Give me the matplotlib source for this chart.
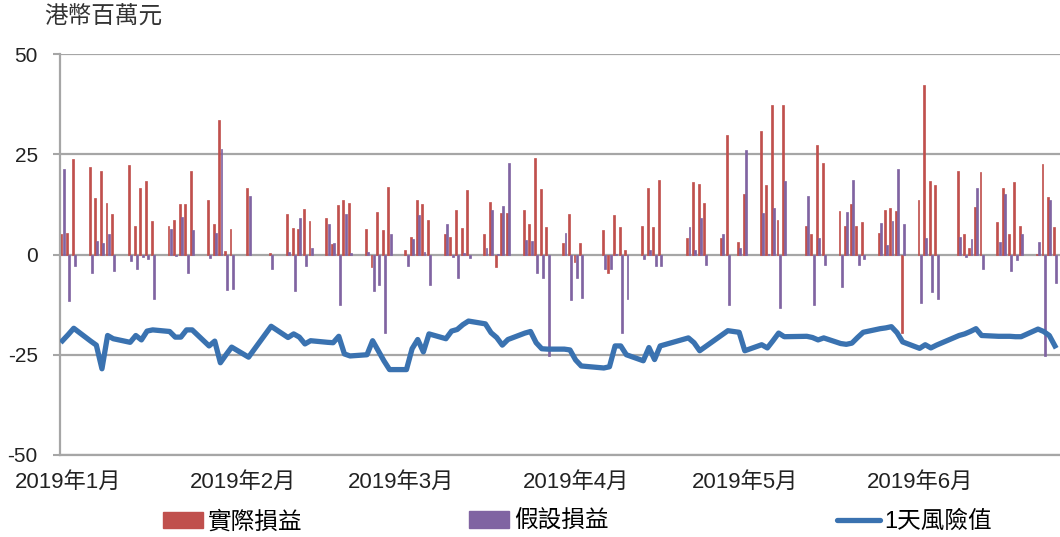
import numpy as np
import pandas as pd
import matplotlib
matplotlib.use("Agg")
import matplotlib.pyplot as plt
import matplotlib.dates as mdates
from matplotlib.patches import Patch
from matplotlib.lines import Line2D

plt.rcParams['font.family'] = ['Liberation Sans', 'Noto Sans CJK TC', 'DejaVu Sans']

# trading days, Jan - Jun 2019
days = [
    "01-02", "01-03", "01-04", "01-07", "01-08", "01-09", "01-10", "01-11",
    "01-14", "01-15", "01-16", "01-17", "01-18", "01-21", "01-22", "01-23",
    "01-24", "01-25", "01-28", "01-29", "01-30", "01-31",
    "02-01", "02-04", "02-08", "02-11", "02-12", "02-13", "02-14", "02-15",
    "02-18", "02-19", "02-20", "02-21", "02-22", "02-25", "02-26", "02-27", "02-28",
    "03-01", "03-04", "03-05", "03-06", "03-07", "03-08", "03-11", "03-12",
    "03-13", "03-14", "03-15", "03-18", "03-19", "03-20", "03-21", "03-22",
    "03-25", "03-26", "03-27", "03-28", "03-29",
    "04-01", "04-02", "04-03", "04-04", "04-08", "04-09", "04-10", "04-11",
    "04-12", "04-15", "04-16", "04-17", "04-18", "04-23", "04-24", "04-25",
    "04-26", "04-29", "04-30",
    "05-02", "05-03", "05-06", "05-07", "05-08", "05-09", "05-10", "05-14",
    "05-15", "05-16", "05-17", "05-20", "05-21", "05-22", "05-23", "05-24",
    "05-27", "05-28", "05-29", "05-30", "05-31",
    "06-03", "06-04", "06-05", "06-06", "06-10", "06-11", "06-12", "06-13",
    "06-14", "06-17", "06-18", "06-19", "06-20", "06-21", "06-24", "06-25",
    "06-26", "06-27",
]

# 實際損益 (HK$ mn)
actual = [
    5.2, 5.4, 23.7, 21.9, 14.2, 20.9, 12.9, 10.0,
    22.2, 7.1, 16.7, 18.3, 8.3, 7.1, 8.7, 12.5,
    12.5, 20.8, 13.7, 7.7, 33.6, 0.8,
    6.4, 16.7, 0.3, 10.0, 6.7, 6.4, 11.4, 8.3,
    9.2, 2.7, 12.3, 13.7, 12.9, 6.4, -3.1, 10.7, 6.0,
    16.8, 1.2, 4.4, 13.5, 12.5, 8.6, 5.2, 4.4,
    11.0, 6.7, 16.2, 5.2, 13.0, -3.1, 10.4, 10.4,
    11.2, 7.5, 24.0, 16.4, 6.8,
    2.9, 10.2, -1.9, 2.9, 6.0, -4.6, 9.8, 6.8,
    1.2, 7.2, 16.6, 6.8, 18.5, 4.0, 18.1, 17.7,
    12.9, 4.2, 29.7,
    3.1, 15.2, 30.7, 17.4, 37.2, 8.7, 37.2, 7.1,
    5.2, 27.3, 22.7, 10.8, 7.2, 12.7, 7.1, 8.2,
    5.4, 11.0, 11.5, 10.8, -19.6,
    13.7, 42.3, 18.3, 17.4, 20.8, 5.2, 1.7, 11.8,
    20.6, 8.1, 16.5, 5.2, 18.1, 7.1, 0.2, 22.5,
    14.4, 6.8,
]

# 假設損益 (HK$ mn)
hypothetical = [
    21.2, -11.7, -2.9, -4.6, 3.3, 2.9, 5.0, -4.0,
    -1.7, -3.7, -0.6, -1.2, -11.2, 6.4, -0.4, 9.4,
    -4.7, 6.0, -0.8, 5.4, 26.4, -8.9,
    -8.6, 14.6, -3.7, 0.5, -9.2, 9.0, -2.9, 1.5,
    7.5, 2.9, -12.7, 10.2, 0.3, 0.7, -9.2, -7.5, -19.6,
    5.0, -2.9, 3.9, 9.8, 0.7, -7.7, 7.7, -0.7,
    -5.8, 0.3, -0.8, 1.7, 11.0, 0.2, 12.2, 22.9,
    3.6, 3.3, -4.7, -5.8, -25.2,
    5.4, -11.4, -5.8, -10.8, -3.6, -3.6, 0.2, -19.6,
    -11.2, -1.1, 1.2, -2.9, -2.9, 6.8, 1.0, 9.0,
    -2.7, 5.0, -12.5,
    1.7, 26.0, 10.4, 0.2, 11.7, -13.3, 18.3, 14.6,
    -12.5, 4.0, -2.7, -8.1, 10.6, 18.7, -2.5, -1.2,
    7.9, 2.3, 8.3, 21.4, 7.7,
    -12.2, 4.0, -9.4, -11.0, 4.3, -0.6, 3.9, 16.7,
    -3.7, 3.2, 15.0, -4.2, -1.4, 5.2, 3.1, -25.2,
    13.5, -7.2,
]

# 1天風險值 (HK$ mn)
var_1d = [
    -21.5, -20.0, -18.4, -21.6, -22.6, -28.5, -20.2, -21.0,
    -21.9, -20.2, -21.3, -19.1, -18.8, -19.2, -20.6, -20.6,
    -18.8, -18.8, -22.8, -21.6, -27.0, -25.0,
    -23.1, -25.6, -17.9, -20.7, -19.8, -20.6, -22.3, -21.5,
    -21.9, -22.0, -20.4, -24.8, -25.3, -25.0, -21.5, -24.0, -26.5,
    -28.7, -28.7, -23.5, -21.2, -24.3, -19.8, -21.0, -19.1,
    -18.7, -17.5, -16.6, -17.3, -19.5, -20.7, -22.6, -21.2,
    -19.6, -19.2, -22.0, -23.5, -23.6,
    -23.6, -23.8, -26.3, -27.8, -28.3, -28.0, -22.8, -22.8,
    -25.0, -26.5, -23.2, -26.2, -22.8, -20.8, -22.0, -24.0,
    -23.0, -20.0, -19.0,
    -19.4, -24.0, -22.5, -23.3, -21.5, -19.6, -20.5, -20.4,
    -20.7, -21.3, -20.8, -22.2, -22.4, -22.1, -20.7, -19.4,
    -18.5, -18.3, -18.0, -19.5, -21.8,
    -23.4, -22.5, -23.3, -22.6, -20.2, -19.8, -19.2, -18.5,
    -20.2, -20.4, -20.4, -20.4, -20.5, -20.5, -18.6, -19.2,
    -20.2, -22.8,
]

month_labels = ["2019年1月", "2019年2月", "2019年3月", "2019年4月", "2019年5月", "2019年6月"]

dates = pd.to_datetime(["2019-" + d for d in days])
x = mdates.date2num(dates)

red = "#c0504d"
purple = "#8064a2"
blue = "#3a72b0"
grid_grey = "#a6a6a6"

fig = plt.figure(figsize=(10.6, 5.37), dpi=100)
ax = fig.add_axes([60 / 1060, 82 / 537, 1000 / 1060, 401 / 537])

# thin edge in the same colour keeps every bar at least ~2px wide
ax.bar(x - 0.2, actual, width=0.34, color=red, edgecolor=red, lw=0.5, zorder=2)
ax.bar(x + 0.2, hypothetical, width=0.34, color=purple, edgecolor=purple, lw=0.5, zorder=2)
ax.plot(x, var_1d, color=blue, lw=3.8, solid_joinstyle='round', zorder=3)

x0 = mdates.date2num(pd.Timestamp("2019-01-02"))
ax.set_xlim(x0 - 0.44, x0 + 176.9)
ax.set_ylim(-50, 50)
ax.set_yticks([-50, -25, 0, 25, 50])
ax.set_yticklabels(["-50", "-25", "0", "25", "50"])
ax.yaxis.grid(True, color=grid_grey, lw=1.6)
ax.set_axisbelow(True)

month_starts = mdates.date2num(pd.date_range("2019-01-01", periods=6, freq="MS"))
ax.set_xticks(month_starts + 2)
ax.set_xticklabels(month_labels)

for s in ["top", "right"]:
    ax.spines[s].set_visible(False)
for s in ["left", "bottom"]:
    ax.spines[s].set_color(grid_grey)
    ax.spines[s].set_linewidth(1.6)

ax.tick_params(axis="y", length=5, width=1.5, color=grid_grey, pad=11,
               labelsize=15, labelcolor="#222222")
ax.tick_params(axis="x", length=0, pad=12, labelsize=16, labelcolor="#222222")

fig.text(44 / 1060, 1 - 18 / 537, "港幣百萬元", fontsize=17, color="#333333",
         va="center", ha="left")

leg_kw = dict(frameon=False, fontsize=17, borderpad=0, borderaxespad=0,
              handletextpad=0.2, loc="center left")
fig.legend([Patch(color=red)], ["實際損益"], handlelength=1.7, handleheight=0.72,
           bbox_to_anchor=(163 / 1060, 1 - 522 / 537), **leg_kw)
fig.legend([Patch(color=purple)], ["假設損益"], handlelength=1.7, handleheight=0.72,
           bbox_to_anchor=(469 / 1060, 1 - 522 / 537), **leg_kw)
fig.legend([Line2D([0], [0], color=blue, lw=3.8, solid_capstyle='round')], ["1天風險值"],
           handlelength=1.8, bbox_to_anchor=(837 / 1060, 1 - 522 / 537), **leg_kw)

fig.savefig("out.png", dpi=100)
